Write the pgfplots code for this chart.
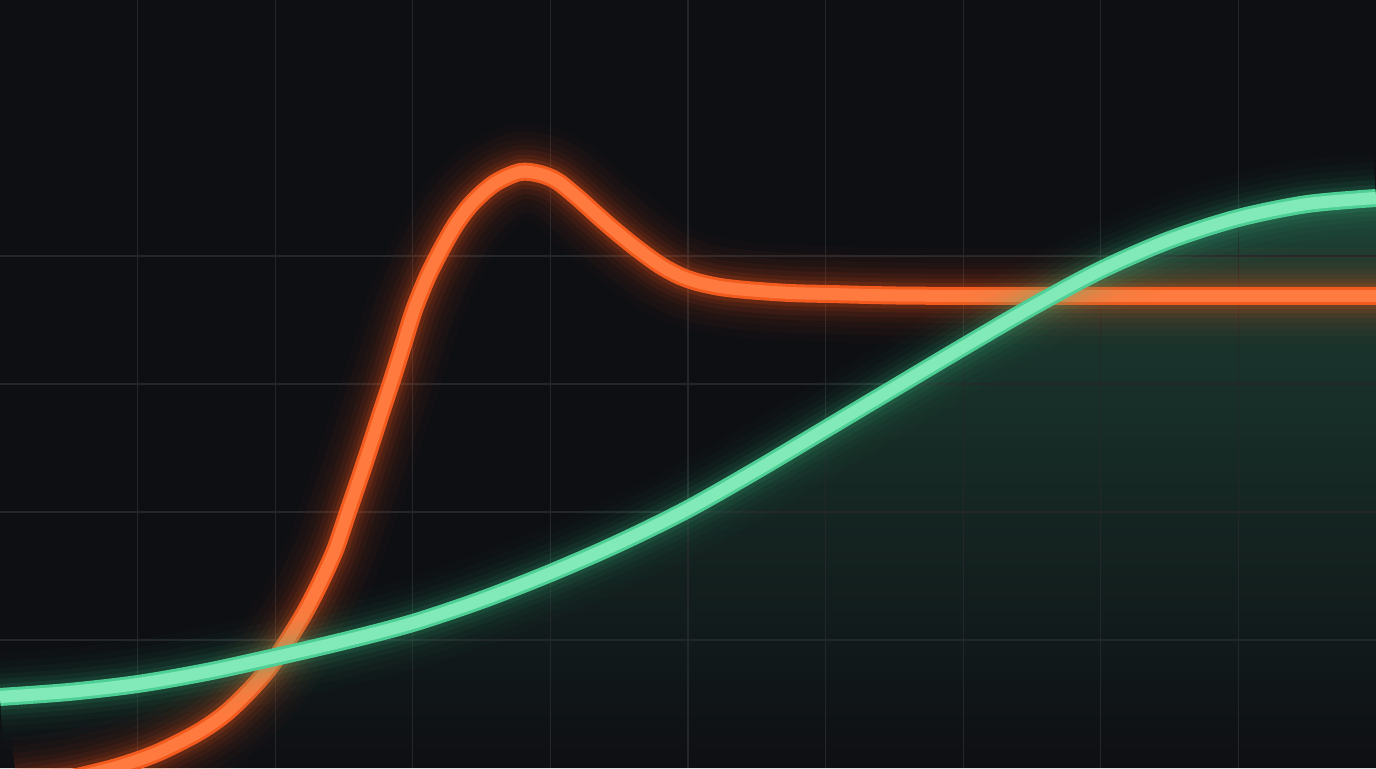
\documentclass[border=0pt]{standalone}
\usepackage{pgfplots}
\usepackage{pgfplotstable}
\pgfplotsset{compat=1.18}
\definecolor{bg}{HTML}{0E0F13}
\definecolor{gridc}{HTML}{23262A}
\definecolor{orEdge}{HTML}{F25A1E}
\definecolor{orIn}{HTML}{FF7A3E}
\definecolor{orGlow}{HTML}{FF5A1A}
\definecolor{grEdge}{HTML}{4ECF96}
\definecolor{grIn}{HTML}{82EAB9}
\definecolor{grGlow}{HTML}{3CC98A}
\definecolor{fillTop}{HTML}{1D4034}

\pgfplotstableread{
x y
0.124 -0.141
0.487 -0.086
0.850 0.008
1.141 0.117
1.432 0.273
1.635 0.422
1.817 0.609
1.962 0.789
2.093 1.000
2.217 1.219
2.326 1.445
2.435 1.703
2.522 1.977
2.609 2.250
2.689 2.508
2.769 2.773
2.849 3.031
2.929 3.305
3.009 3.578
3.103 3.828
3.205 4.047
3.314 4.250
3.438 4.422
3.597 4.570
3.779 4.656
3.924 4.641
4.048 4.586
4.193 4.461
4.339 4.320
4.455 4.211
4.578 4.102
4.702 4.000
4.818 3.914
4.942 3.844
5.065 3.797
5.233 3.758
5.429 3.734
5.741 3.711
6.032 3.703
6.541 3.691
7.267 3.688
8.500 3.688
10.00 3.688
}\orangedata

\pgfplotstableread{
x y
0.0 0.555
0.5 0.594
1.0 0.656
1.5 0.750
2.0 0.867
2.5 0.992
3.0 1.133
3.5 1.313
4.0 1.523
4.5 1.758
5.0 2.023
5.5 2.328
6.0 2.648
6.5 2.969
7.0 3.289
7.5 3.602
8.0 3.891
8.5 4.125
9.0 4.297
9.5 4.406
10.0 4.453
}\greendata

\begin{document}
\begin{tikzpicture}
\begin{axis}[
  set layers,
  scale only axis,
  width=688pt, height=384pt,
  xmin=0, xmax=10, ymin=0, ymax=6,
  axis background/.style={fill=bg},
  axis line style={draw=none},
  xtick={1,...,9}, ytick={1,...,4},
  xticklabels={}, yticklabels={},
  major tick length=0pt,
  grid=major,
  grid style={gridc, line width=0.6pt},
  clip=true,
]
% green area under curve
\addplot[draw=none, on layer=axis background, smooth,
  top color=fillTop, middle color=fillTop!20!bg, bottom color=bg]
  table[x=x,y=y]{\greendata} \closedcycle;

% orange glow + line
\addplot[smooth, orGlow, line width=48pt, opacity=0.025] table[x=x,y=y]{\orangedata};
\addplot[smooth, orGlow, line width=40pt, opacity=0.03] table[x=x,y=y]{\orangedata};
\addplot[smooth, orGlow, line width=33pt, opacity=0.04] table[x=x,y=y]{\orangedata};
\addplot[smooth, orGlow, line width=27pt, opacity=0.05] table[x=x,y=y]{\orangedata};
\addplot[smooth, orGlow, line width=22pt, opacity=0.065] table[x=x,y=y]{\orangedata};
\addplot[smooth, orGlow, line width=17pt, opacity=0.09] table[x=x,y=y]{\orangedata};
\addplot[smooth, orGlow, line width=13pt, opacity=0.13] table[x=x,y=y]{\orangedata};
\addplot[smooth, orEdge, line width=9pt] table[x=x,y=y]{\orangedata};
\addplot[smooth, orIn, line width=6pt] table[x=x,y=y]{\orangedata};

% green glow + line
\addplot[smooth, grGlow, line width=44pt, opacity=0.02] table[x=x,y=y]{\greendata};
\addplot[smooth, grGlow, line width=36pt, opacity=0.025] table[x=x,y=y]{\greendata};
\addplot[smooth, grGlow, line width=29pt, opacity=0.035] table[x=x,y=y]{\greendata};
\addplot[smooth, grGlow, line width=23pt, opacity=0.05] table[x=x,y=y]{\greendata};
\addplot[smooth, grGlow, line width=18pt, opacity=0.07] table[x=x,y=y]{\greendata};
\addplot[smooth, grGlow, line width=13pt, opacity=0.10] table[x=x,y=y]{\greendata};
\addplot[smooth, grEdge, line width=9pt] table[x=x,y=y]{\greendata};
\addplot[smooth, grIn, line width=6pt] table[x=x,y=y]{\greendata};
\end{axis}
\pgfresetboundingbox
\path[use as bounding box] (0,0) rectangle (688pt,384pt);
\end{tikzpicture}
\end{document}
